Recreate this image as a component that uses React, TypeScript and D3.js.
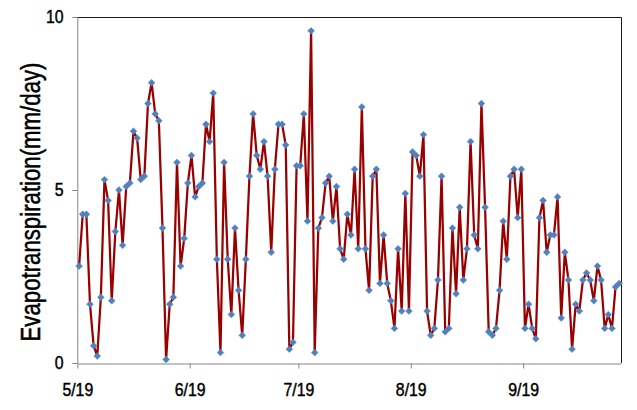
import React, { useEffect, useRef } from 'react';
import * as d3 from 'd3';

// daily evapotranspiration, May 1 - Sep 27, 2019
const startDate = new Date(2019, 4, 1);

const etValues: number[] = [
  2.8, 4.3, 4.3, 1.7, 0.5, 0.2, 1.9, 5.3, 4.7, 1.8,
  3.8, 5.0, 3.4, 5.1, 5.2, 6.7, 6.5, 5.3, 5.4, 7.5,
  8.1, 7.2, 7.0, 3.9, 0.1, 1.7, 1.9, 5.8, 2.8, 3.6,
  5.2, 6.0, 4.8, 5.1, 5.2, 6.9, 6.4, 7.8, 3.0, 0.3,
  5.8, 3.0, 1.4, 3.9, 2.1, 0.8, 3.0, 5.4, 7.2, 6.0,
  5.6, 6.4, 5.4, 3.2, 5.6, 6.9, 6.9, 6.3, 0.4, 0.6,
  5.7, 5.7, 7.2, 4.1, 9.6, 0.3, 3.9, 4.2, 5.2, 5.4,
  4.1, 5.1, 3.3, 3.0, 4.3, 3.7, 5.6, 3.3, 7.4, 3.3,
  2.1, 5.4, 5.6, 2.3, 3.7, 2.3, 1.8, 1.0, 3.3, 1.5,
  4.9, 1.5, 6.1, 6.0, 5.4, 6.6, 1.5, 0.8, 1.0, 2.4,
  5.4, 0.9, 1.0, 3.9, 2.0, 4.5, 2.4, 3.3, 6.4, 3.7,
  3.3, 7.5, 4.5, 0.9, 0.8, 1.0, 2.1, 4.1, 3.0, 5.4,
  5.6, 4.2, 5.6, 1.0, 1.7, 1.0, 0.7, 4.2, 4.7, 3.2,
  3.7, 3.7, 4.8, 1.3, 3.2, 2.4, 0.4, 1.7, 1.5, 2.4,
  2.6, 2.4, 1.8, 2.8, 2.4, 1.0, 1.4, 1.0, 2.2, 2.3,
];

const monthTicks = [
  new Date(2019, 4, 1),
  new Date(2019, 5, 1),
  new Date(2019, 6, 1),
  new Date(2019, 7, 1),
  new Date(2019, 8, 1),
];

const yTicks = [0, 5, 10];
const yTitle = 'Evapotranspiration(mm/day)';

const FONT = '"Liberation Sans Narrow", "Arial Narrow", "Liberation Sans", Arial, sans-serif';

const App: React.FC = () => {
  const svgRef = useRef<SVGSVGElement>(null);

  useEffect(() => {
    if (!svgRef.current) return;
    const svg = d3.select(svgRef.current);
    svg.selectAll('*').remove();

    const left = 77.3, right = 621, top = 17, bottom = 363;

    // each day sits in the middle of its own slot (Excel date axis)
    const endDate = d3.timeDay.offset(startDate, etValues.length);
    const x = d3.scaleTime().domain([startDate, endDate]).range([left, right]);
    const y = d3.scaleLinear().domain([0, 10]).range([bottom, top]);

    const points = etValues.map((v, i) => ({
      date: d3.timeHour.offset(d3.timeDay.offset(startDate, i), 12),
      value: v,
    }));

    // plot frame: top and right dark
    svg.append('path')
      .attr('d', `M${left},${top + 0.5}H${right + 0.5}V${bottom}`)
      .attr('fill', 'none')
      .attr('stroke', '#1a1a1a')
      .attr('stroke-width', 1);

    // x axis
    const fmt = d3.timeFormat('%-m/%y');
    const xAxis = svg.append('g')
      .attr('transform', `translate(0,${bottom + 0.5})`)
      .call(
        d3.axisBottom(x)
          .tickValues(monthTicks)
          .tickFormat((d) => fmt(d as Date))
          .tickSize(5)
          .tickSizeOuter(0)
          .tickPadding(15)
      );
    xAxis.select('.domain').attr('stroke', '#868686');
    xAxis.selectAll('.tick line').attr('stroke', '#868686');
    xAxis.selectAll('.tick text')
      .attr('fill', '#000')
      .attr('stroke', '#000')
      .attr('stroke-width', 0.45)
      .attr('transform', 'scale(0.88,1)')
      .style('font-family', FONT)
      .style('font-size', '18px');

    // y axis
    const yAxis = svg.append('g')
      .attr('transform', `translate(${left},0)`)
      .call(
        d3.axisLeft(y)
          .tickValues(yTicks)
          .tickSize(5)
          .tickSizeOuter(0)
          .tickPadding(8)
      );
    yAxis.select('.domain').attr('stroke', '#868686');
    yAxis.selectAll('.tick line').attr('stroke', '#868686');
    yAxis.selectAll('.tick text')
      .attr('x', -15.5)
      .attr('fill', '#000')
      .attr('stroke', '#000')
      .attr('stroke-width', 0.45)
      .attr('transform', 'scale(0.88,1)')
      .style('font-family', FONT)
      .style('font-size', '18px');

    svg.append('text')
      .attr('transform', `translate(40,202) rotate(-90)`)
      .attr('text-anchor', 'middle')
      .attr('textLength', 279)
      .attr('lengthAdjust', 'spacingAndGlyphs')
      .attr('stroke', '#000')
      .attr('stroke-width', 0.5)
      .style('font-family', FONT)
      .style('font-size', '27px')
      .attr('fill', '#000')
      .text(yTitle);

    // series line
    const line = d3.line<{ date: Date; value: number }>()
      .x((d) => x(d.date))
      .y((d) => y(d.value));

    svg.append('path')
      .datum(points)
      .attr('d', line)
      .attr('fill', 'none')
      .attr('stroke', '#990000')
      .attr('stroke-width', 2.25)
      .attr('stroke-linejoin', 'round');

    // diamond markers
    const diamond = d3.symbol().type(d3.symbolDiamond2).size(30);
    svg.append('g')
      .selectAll('path')
      .data(points)
      .join('path')
      .attr('transform', (d) => `translate(${x(d.date)},${y(d.value)})`)
      .attr('d', diamond)
      .attr('fill', '#4f81bd')
      .attr('stroke', '#5b8ccb')
      .attr('stroke-width', 0.5);
  }, []);

  return (
    <svg
      ref={svgRef}
      width={637}
      height={410}
      style={{ position: 'absolute', left: 0, top: 0, background: '#fff', display: 'block' }}
    ></svg>
  );
};

export default App;
